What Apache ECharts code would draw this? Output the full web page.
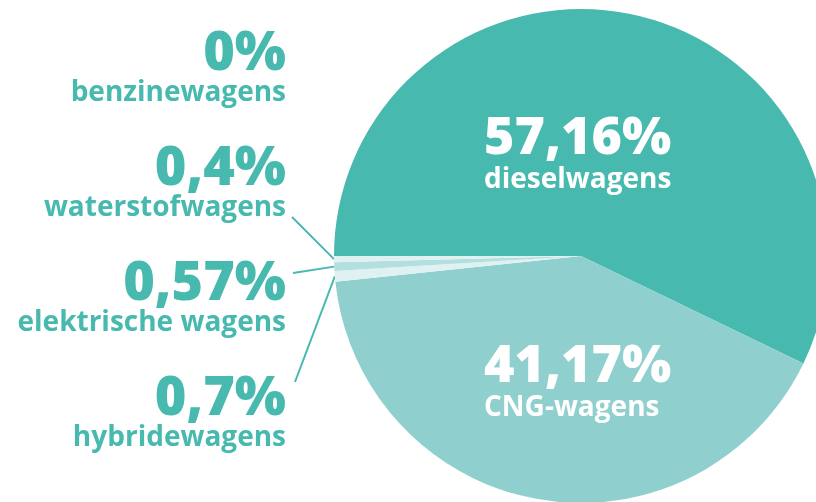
<!DOCTYPE html>
<html>
<head>
<meta charset="utf-8">
<script src="https://cdn.jsdelivr.net/npm/echarts@6/dist/echarts.min.js"></script>
<style>
html,body{margin:0;padding:0;background:#fff;}
#c{width:816px;height:502px;}
</style>
</head>
<body>
<div id="c"></div>
<script>
// Data
var categories = ['dieselwagens', 'CNG-wagens', 'hybridewagens', 'elektrische wagens', 'waterstofwagens', 'benzinewagens'];
var values = [57.16, 41.17, 0.7, 0.57, 0.4, 0];
var valueLabels = ['57,16%', '41,17%', '0,7%', '0,57%', '0,4%', '0%'];

// Styling
var colors = ['#48b9af', '#8fd0cf', '#dff1f1', '#b3dfe0', '#dff1f1', '#dff1f1'];
var TEAL = '#48b9af';
// label anchors
var labelAnchors = [
  {x: 484, y: 114, align: 'left', inside: true},
  {x: 484, y: 342, align: 'left', inside: true},
  {x: 286, y: 376, align: 'right', end: [295, 382]},
  {x: 286, y: 261, align: 'right', end: [293, 273]},
  {x: 286, y: 146, align: 'right', end: [292, 217]},
  {x: 286, y: 31, align: 'right'}
];

var FONT = '"Open Sans", sans-serif';
var data = categories.map(function (name, i) {
  var a = labelAnchors[i];
  var col = a.inside ? '#ffffff' : TEAL;
  return {
    name: name,
    value: values[i],
    itemStyle: {color: colors[i]},
    label: {
      show: true,
      formatter: '{num|' + valueLabels[i] + '}\n{name|' + name + '}',
      rich: {
        num: {fontFamily: FONT, fontWeight: 800, fontSize: a.inside ? 52 : 54, lineHeight: a.inside ? 51 : 47, color: col, align: a.align},
        name: {fontFamily: FONT, fontWeight: 700, fontSize: 28, lineHeight: 30, color: col, align: a.align}
      }
    },
    labelLine: {show: !!a.end, lineStyle: {color: TEAL, width: 2}}
  };
});

var chart = echarts.init(document.getElementById('c'), null, {renderer: 'canvas'});
chart.setOption({
  animation: false,
  backgroundColor: '#ffffff',
  series: [{
    type: 'pie',
    center: [581, 256],
    radius: [0, 247],
    startAngle: 180,
    clockwise: true,
    avoidLabelOverlap: false,
    minShowLabelAngle: 0,
    silent: true,
    itemStyle: {borderWidth: 0},
    label: {position: 'outside'},
    labelLine: {length: 10, length2: 10},
    data: data,
    labelLayout: function (params) {
      var a = labelAnchors[params.dataIndex];
      var res = {x: a.x, y: a.y, align: a.align, verticalAlign: 'top', hideOverlap: false};
      if (a.end && params.labelLinePoints) {
        var p0 = params.labelLinePoints[0];
        res.labelLinePoints = [[p0[0], p0[1]], [a.end[0], a.end[1]], [a.end[0], a.end[1]]];
      }
      return res;
    }
  }]
});
</script>
</body>
</html>
